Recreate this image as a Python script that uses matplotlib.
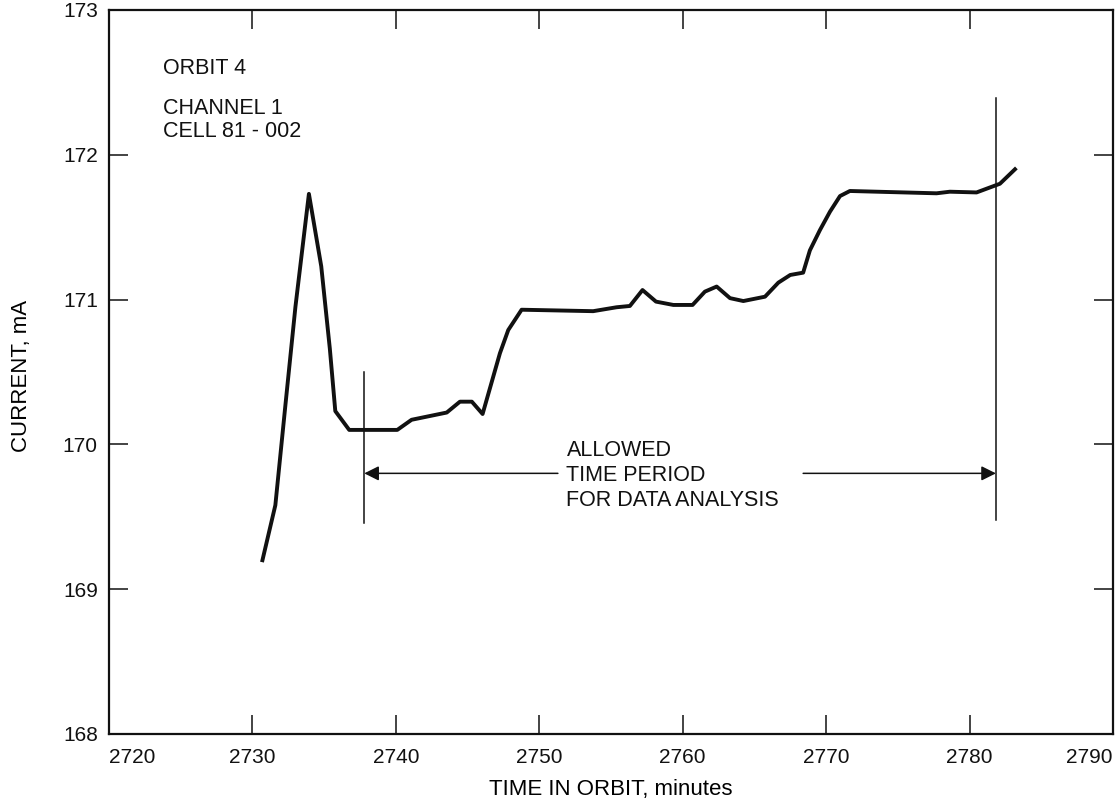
import matplotlib.pyplot as plt
import numpy as np

# --- data ---
minutes = [2730.7, 2731.6, 2732.3, 2733.0, 2733.94, 2734.8, 2735.4, 2735.78, 2736.75,
           2740.1, 2741.1, 2743.55, 2744.47, 2745.3, 2746.05, 2747.26, 2747.84, 2748.77,
           2753.76, 2755.39, 2756.32, 2757.2, 2758.14, 2759.35, 2760.69, 2761.55, 2762.37,
           2763.3, 2764.23, 2765.74, 2766.67, 2767.5, 2768.4, 2768.87, 2769.57, 2770.27,
           2770.97, 2771.66, 2777.7, 2778.63, 2780.49, 2782.12, 2783.17]
current = [169.2, 169.58, 170.27, 170.95, 171.73, 171.23, 170.66, 170.23, 170.10,
           170.10, 170.17, 170.22, 170.295, 170.295, 170.21, 170.63, 170.79, 170.93,
           170.92, 170.947, 170.956, 171.066, 170.986, 170.963, 170.963, 171.055, 171.09,
           171.01, 170.99, 171.02, 171.117, 171.17, 171.186, 171.34, 171.48, 171.607,
           171.715, 171.75, 171.734, 171.745, 171.74, 171.80, 171.90]

x_ticks = [2720, 2730, 2740, 2750, 2760, 2770, 2780, 2790]
y_ticks = [168, 169, 170, 171, 172, 173]

window_start = 2737.8
window_end = 2781.84

plt.rcParams['font.family'] = ['Liberation Sans', 'DejaVu Sans']

fig = plt.figure(figsize=(11.2, 8.05), dpi=100)
ax = fig.add_axes([0.0973, 0.0882, 0.8964, 0.8994])

ax.plot(minutes, current, color='#111111', lw=2.8, solid_joinstyle='round')

ax.set_xlim(2720, 2790)
ax.set_ylim(168, 173)
ax.set_xticks(x_ticks)
ax.set_yticks(y_ticks)
ax.tick_params(direction='in', length=14, width=1.1, top=True, right=True,
               pad=8, colors='#111111')
ax.tick_params(axis='x', labelsize=15, pad=10)
ax.tick_params(axis='y', labelsize=15)
for sp in ax.spines.values():
    sp.set_linewidth(1.6)
    sp.set_color('#111111')

xl = ax.get_xticklabels()
xl[0].set_ha('left')
xl[-1].set_ha('right')

ax.set_xlabel('TIME IN ORBIT, minutes', fontsize=16, labelpad=9)
ax.set_ylabel('CURRENT, mA', fontsize=16)
ax.yaxis.set_label_coords(-0.077, 0.494)

# analysis window markers
ax.plot([window_start, window_start], [169.46, 170.5], color='#111111', lw=1.1)
ax.plot([window_end, window_end], [169.48, 172.39], color='#111111', lw=1.1)
arrow_y = 169.8
ax.annotate('', xy=(window_start, arrow_y), xytext=(2751.3, arrow_y),
            arrowprops=dict(arrowstyle='-|>', color='#111111', lw=1.1,
                            mutation_scale=22, shrinkA=0, shrinkB=0))
ax.annotate('', xy=(window_end, arrow_y), xytext=(2768.4, arrow_y),
            arrowprops=dict(arrowstyle='-|>', color='#111111', lw=1.1,
                            mutation_scale=22, shrinkA=0, shrinkB=0))
ax.text(2751.9, arrow_y - 0.015, 'ALLOWED\nTIME PERIOD\nFOR DATA ANALYSIS', fontsize=15.5,
        ha='left', va='center', linespacing=1.25, color='#111111')

ax.text(2723.8, 172.598, 'ORBIT 4', fontsize=15.5, ha='left', va='center', color='#111111')
ax.text(2723.8, 172.24, 'CHANNEL 1\nCELL 81 - 002', fontsize=15.5, ha='left', va='center',
        linespacing=1.1, color='#111111')

fig.savefig('out.png', dpi=100)
